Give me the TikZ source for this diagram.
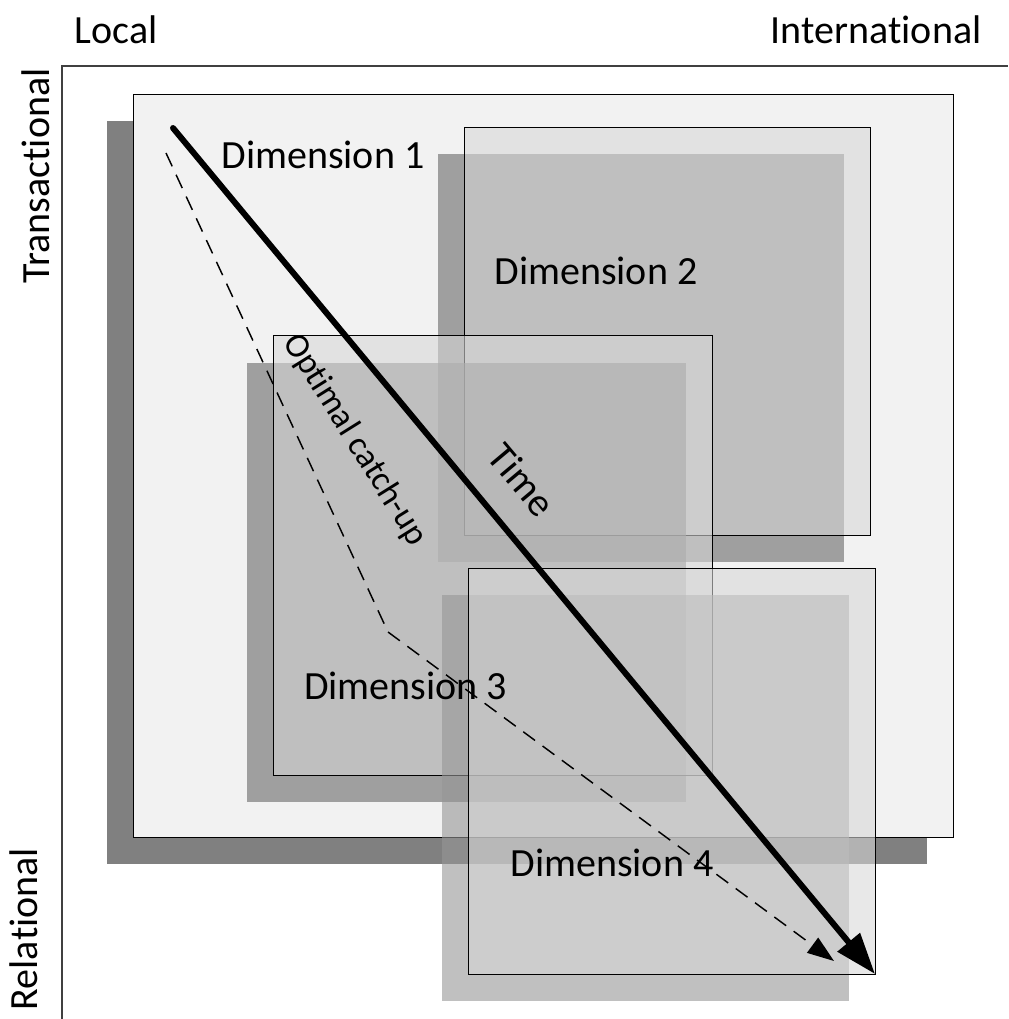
\documentclass[tikz,border=0pt]{standalone}
\usepackage{fontspec}
\setmainfont{Carlito}[RawFeature={-liga;-clig;-calt;-dlig}]
\usetikzlibrary{arrows.meta}
\definecolor{dimoneshadow}{RGB}{128,128,128}
\definecolor{dimonefill}{RGB}{242,242,242}
\definecolor{innerfill}{RGB}{215,215,215}
\definecolor{innershadow}{RGB}{115,115,115}
\definecolor{lightshadow}{RGB}{150,150,150}
\definecolor{axisgray}{RGB}{64,64,64}
\newcommand{\nolig}{\kern0pt}
\begin{document}
\begin{tikzpicture}[x=0.75pt,y=-0.75pt,
  sq/.style={rectangle, inner sep=0pt, outer sep=0pt},
  bigbox/.style={sq, draw=black, line width=0.75pt, fill=dimonefill, minimum width=615pt, minimum height=556.5pt},
  bigshadow/.style={sq, fill=dimoneshadow, minimum width=615pt, minimum height=556.5pt},
  innerbox/.style={sq, draw=black, line width=0.75pt, fill=innerfill, fill opacity=0.585},
  innershad/.style={sq, fill=innershadow, fill opacity=0.65},
  lightshad/.style={sq, fill=lightshadow, fill opacity=0.6},
  lbl/.style={inner sep=0pt, font=\fontsize{30}{36}\selectfont},
  axisline/.style={draw=axisgray, line width=0.9pt}]
\useasboundingbox (0,0) rectangle (1008,1019);
% Dimension 1
\node[bigshadow] (d1s) at (516.5,492.5) {};
\node[bigbox] (d1) at (543,466) {};
% Dimension 2
\node[innershad, minimum width=304.5pt, minimum height=305.25pt] (d2s) at (640.5,358) {};
\node[innerbox, minimum width=304.5pt, minimum height=305.25pt] (d2) at (667,331.5) {};
% Dimension 3
\node[innershad, minimum width=329.25pt, minimum height=329.25pt] (d3s) at (466,582) {};
\node[innerbox, minimum width=329.25pt, minimum height=329.25pt] (d3) at (492.5,555.5) {};
% Dimension 4
\node[lightshad, minimum width=305.25pt, minimum height=304.5pt] (d4s) at (645.5,797.5) {};
\node[innerbox, minimum width=305.25pt, minimum height=304.5pt] (d4) at (671.5,771) {};
% axes
\coordinate (axbottom) at (62,1019);
\coordinate (axcorner) at (62,66);
\coordinate (axright) at (1008,66);
\draw[axisline] (axbottom) -- (axcorner) -- (axright);
% labels
\node[lbl] (local) at (116,30) {Local};
\node[lbl] (intl) at (876,30) {Interna\nolig tional};
\node[lbl, rotate=90] (trans) at (36,176) {Transac\nolig tional};
\node[lbl, rotate=90] (rel) at (24,929) {Rela\nolig tional};
\node[lbl] (t1) at (323,155) {Dimension 1};
\node[lbl] (t2) at (596,271) {Dimension 2};
\node[lbl] (t3) at (405.5,686) {Dimension 3};
\node[lbl] (t4) at (612,863) {Dimension 4};
\node[lbl, font=\fontsize{26}{31}\selectfont, rotate=-58] (tocu) at (355,440) {Opt\nolig imal catch-up};
\node[lbl, rotate=-50] (ttime) at (522,480) {Time};
% arrows
\coordinate (tstart) at (173,128);
\draw[line width=4.5pt, line cap=round, -{Triangle[length=31pt,width=21pt]}] (tstart) -- (d4.south east);
\coordinate (dstart) at (166,153);
\coordinate (dbend) at (388,632);
\coordinate (dend) at (834,961);
\draw[line width=1.1pt, dash pattern=on 11pt off 7pt, -{Triangle[length=20pt,width=14pt]}] (dstart) -- (dbend) -- (dend);
\end{tikzpicture}
\end{document}
